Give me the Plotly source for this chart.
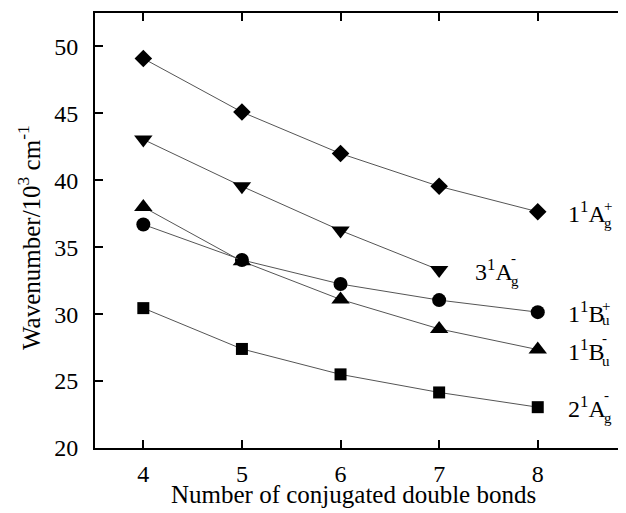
import plotly.graph_objects as go

n_bonds = [4, 5, 6, 7, 8]
ag_plus_1 = [49.1, 45.1, 42.0, 39.55, 37.65]      # 1¹Ag+  (diamonds)
n_bonds_3ag = [4, 5, 6, 7]
ag_minus_3 = [43.05, 39.55, 36.25, 33.3]         # 3¹Ag-  (down triangles)
bu_plus_1 = [36.7, 34.05, 32.25, 31.05, 30.15]   # 1¹Bu+  (circles)
bu_minus_1 = [38.0, 33.95, 31.1, 28.9, 27.35]    # 1¹Bu-  (up triangles)
ag_minus_2 = [30.45, 27.4, 25.5, 24.15, 23.05]   # 2¹Ag-  (squares)

x_ticks = [4, 5, 6, 7, 8]
y_ticks = [20, 25, 30, 35, 40, 45, 50]

FONT = "Liberation Serif, Times New Roman, serif"
LINE = dict(color="#555555", width=1)

series = [
    (n_bonds, ag_plus_1, "diamond", 13.5),
    (n_bonds_3ag, ag_minus_3, "triangle-down", 16),
    (n_bonds, bu_plus_1, "circle", 14),
    (n_bonds, bu_minus_1, "triangle-up", 16),
    (n_bonds, ag_minus_2, "square", 12),
]

fig = go.Figure()
for xs, ys, sym, sz in series:
    fig.add_trace(go.Scatter(
        x=xs, y=ys, mode="lines+markers", line=LINE,
        marker=dict(symbol=sym, size=sz, color="black", line=dict(width=0)),
        showlegend=False, hoverinfo="skip"))

# invisible trace to carry the right-hand tick axis
fig.add_trace(go.Scatter(x=n_bonds, y=ag_minus_2, yaxis="y2", mode="markers",
                         marker=dict(opacity=0), showlegend=False, hoverinfo="skip"))

# state labels: (x, y, main, sign, sub, xshift, sign_dx, sign_dy, sub_dy)
labels = [
    (8, ag_plus_1[-1], "1<sup>1</sup>A", "+", "g", 28, 36, 6, -11),
    (7, ag_minus_3[-1], "3<sup>1</sup>A", "-", "g", 34, 36, 12, -11),
    (8, bu_plus_1[-1], "1<sup>1</sup>B", "+", "u", 28, 34, 6, -8),
    (8, bu_minus_1[-1], "1<sup>1</sup>B", "-", "u", 28, 34, 12, -11),
    (8, ag_minus_2[-1], "2<sup>1</sup>A", "-", "g", 28, 36, 12, -11),
]
for x, y, main, sign, sub, dx, sdx, sdy, bdy in labels:
    fig.add_annotation(x=x, y=y, text=main, showarrow=False, xanchor="left",
                       yanchor="middle", xshift=dx,
                       font=dict(family=FONT, size=24, color="black"))
    fig.add_annotation(x=x, y=y, text=sign, showarrow=False, xanchor="left",
                       yanchor="middle", xshift=dx + sdx, yshift=sdy,
                       font=dict(family=FONT, size=15, color="black"))
    fig.add_annotation(x=x, y=y, text=sub, showarrow=False, xanchor="left",
                       yanchor="middle", xshift=dx + sdx, yshift=bdy,
                       font=dict(family=FONT, size=15, color="black"))

# axis titles
fig.add_annotation(xref="paper", yref="paper", x=0.5, y=0, xanchor="center",
                   yanchor="middle", xshift=-7, yshift=-46, showarrow=False,
                   text="Number of conjugated double bonds",
                   font=dict(family=FONT, size=25, color="black"))
fig.add_annotation(xref="paper", yref="paper", x=0, y=0.5, xanchor="center",
                   yanchor="middle", xshift=-66, yshift=-7.5, showarrow=False,
                   textangle=-90,
                   text="Wavenumber/10<sup>3</sup> cm<sup>-1</sup>",
                   font=dict(family=FONT, size=25, color="black"))

fig.update_layout(
    width=618, height=505,
    margin=dict(l=87, r=0, t=5, b=64.5, autoexpand=False),
    paper_bgcolor="white", plot_bgcolor="white",
    font=dict(family=FONT, color="black"),
    xaxis=dict(range=[3.51, 8.895], tickvals=x_ticks, ticks="inside", ticklen=8,
               tickwidth=2, tickcolor="black", showline=True, linewidth=2,
               linecolor="black", mirror="ticks", showgrid=False, zeroline=False,
               tickfont=dict(family=FONT, size=24), ticklabelstandoff=3),
    yaxis=dict(range=[20, 52.5], tickvals=y_ticks, ticks="inside", ticklen=8,
               tickwidth=2, tickcolor="black", showline=True, linewidth=2,
               linecolor="black", showgrid=False, zeroline=False,
               tickfont=dict(family=FONT, size=24), ticklabelstandoff=10),
    yaxis2=dict(range=[20, 52.5], tickvals=y_ticks, ticks="inside", ticklen=8,
                tickwidth=2, tickcolor="black", overlaying="y", side="right",
                showline=False, showgrid=False, zeroline=False,
                showticklabels=False),
)

fig.write_html("out.html")
